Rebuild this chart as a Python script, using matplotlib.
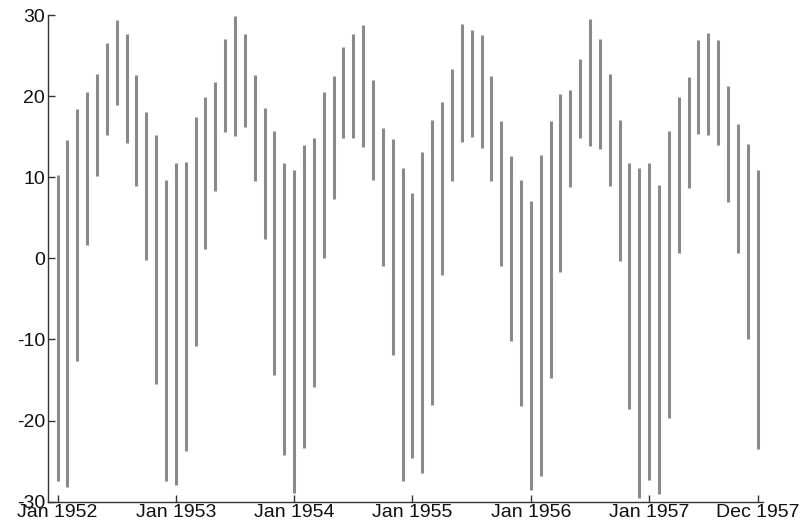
import numpy as np
import matplotlib
matplotlib.use("Agg")
import matplotlib.pyplot as plt

# monthly temperature range, Jan 1952 - Dec 1957
months = np.arange(72)
highs = [10.3, 14.6, 18.4, 20.5, 22.7, 26.6, 29.4, 27.6, 22.6, 18.0, 15.2, 9.7,
         11.7, 11.9, 17.4, 19.9, 21.7, 27.0, 29.9, 27.7, 22.6, 18.5, 15.7, 11.7,
         10.9, 14.0, 14.8, 20.5, 22.5, 26.1, 27.7, 28.8, 22.0, 16.1, 14.7, 11.1,
         8.1, 13.1, 17.0, 19.3, 23.3, 28.9, 28.2, 27.5, 22.5, 16.9, 12.6, 9.6,
         7.1, 12.7, 16.9, 20.3, 20.8, 24.6, 29.5, 27.0, 22.7, 17.1, 11.7, 11.2,
         11.8, 9.0, 15.7, 19.9, 22.4, 26.9, 27.8, 26.9, 21.2, 16.6, 14.1, 10.9]
lows = [-27.4, -28.2, -12.7, 1.6, 10.1, 15.2, 18.9, 14.2, 8.9, -0.2, -15.5, -27.4,
        -28.0, -23.8, -10.8, 1.2, 8.3, 15.6, 15.1, 16.2, 9.5, 2.4, -14.4, -24.3,
        -28.9, -23.4, -15.9, 0.0, 7.3, 14.9, 14.9, 13.7, 9.7, -1.0, -11.9, -27.4,
        -24.6, -26.4, -18.1, -2.0, 9.5, 14.3, 15.0, 13.6, 9.5, -1.0, -10.2, -18.2,
        -28.5, -26.8, -14.7, -1.7, 8.8, 14.9, 13.8, 13.5, 8.9, -0.3, -18.6, -29.6,
        -27.3, -29.0, -19.7, 0.7, 8.7, 15.3, 15.2, 14.0, 6.9, 0.7, -9.9, -23.5]
tick_pos = [0, 12, 24, 36, 48, 60, 71]
tick_labels = ["Jan 1952", "Jan 1953", "Jan 1954", "Jan 1955", "Jan 1956", "Jan 1957", "Dec 1957"]

plt.rcParams['font.family'] = ['Liberation Sans', 'DejaVu Sans']
plt.rcParams['axes.unicode_minus'] = False

fig = plt.figure(figsize=(8, 5.27), dpi=100)
ax = fig.add_axes([0.0596, 0.048, 0.8944, 0.9235])

ax.vlines(months, lows, highs, color='#8a8a8a', linewidth=2.2)

ax.set_xlim(-1.0, 71.57)
ax.set_ylim(-30, 30)
ax.set_yticks([-30, -20, -10, 0, 10, 20, 30])
ax.set_xticks(tick_pos)
ax.set_xticklabels(tick_labels)

for s in ['top', 'right']:
    ax.spines[s].set_visible(False)
for s in ['left', 'bottom']:
    ax.spines[s].set_color('#333333')
    ax.spines[s].set_linewidth(1.0)

ax.tick_params(direction='in', length=5, width=1, color='#333333',
               labelsize=14, labelcolor='#111111', pad=2)

fig.savefig("out.png", dpi=100)
